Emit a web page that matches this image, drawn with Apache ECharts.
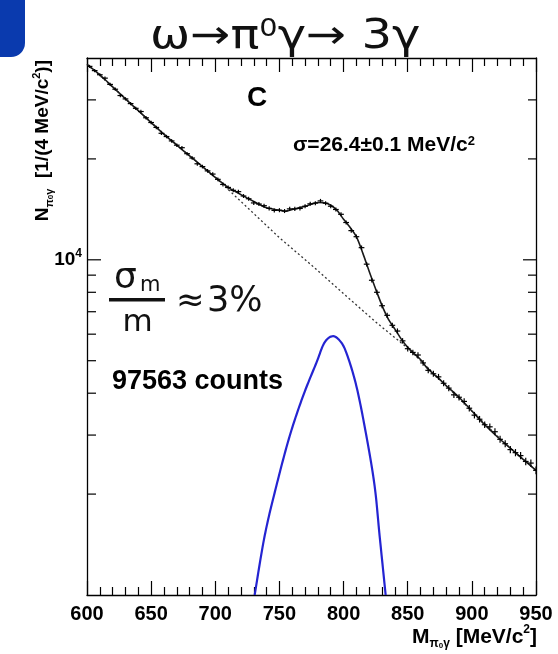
<!DOCTYPE html>
<html><head><meta charset="utf-8">
<script src="https://cdn.jsdelivr.net/npm/echarts@6/dist/echarts.min.js"></script>
<style>html,body{margin:0;padding:0;background:#fff}#c{width:558px;height:654px}</style>
</head><body><div id="c"></div>
<script>
// ---- data ----
const xTickLabels = [600, 650, 700, 750, 800, 850, 900, 950];
const yLabelValues = [10000];
const yMajorTicks = [10000];
const yMinorTicks = [2000, 3000, 4000, 5000, 6000, 7000, 8000, 9000, 20000, 30000];

const binCenters = [602,606,610,614,618,622,626,630,634,638,642,646,650,654,658,662,666,670,674,678,682,686,690,694,698,702,706,710,714,718,722,726,730,734,738,742,746,750,754,758,762,766,770,774,778,782,786,790,794,798,802,806,810,814,818,822,826,830,834,838,842,846,850,854,858,862,866,870,874,878,882,886,890,894,898,902,906,910,914,918,922,926,930,934,938,942,946,950];
const counts = [37760,36680,35650,34830,33360,32280,30910,30200,29240,28310,
  27690,26530,25680,24830,23850,23320,22630,21980,21600,20730,
  20120,19340,18970,18420,18020,17380,16780,16440,16120,15970,
  15500,15210,14780,14670,14500,14240,14040,14060,13980,14190,
  14190,14230,14450,14690,14760,14990,14750,14450,14130,13670,
  12920,12220,11720,10870,9705,8690,8000,7295,6830,6377,
  6130,5731,5430,5293,5200,4925,4680,4571,4475,4282,
  4142,3955,3890,3780,3608,3440,3345,3221,3175,3070,
  2914,2827,2715,2659,2605,2503,2475,2355];

const fitX = [600,610,620,630,640,650,660,670,680,690,700,710,720,730,740,750,755,760,765,770,775,780,785,790,795,800,805,810,815,820,825,830,835,840,845,850,855,860,865,870,875,880,890,900,910,920,930,940,950];
const fitY = [38300,35650,32810,30200,27860,25670,23660,21980,20420,18970,17620,16440,15650,14930,14290,14060,13960,14130,14290,14450,14660,14830,14790,14550,14030,13210,12500,11720,10470,9230,8180,7300,6640,6210,5800,5480,5250,5040,4760,4570,4400,4210,3890,3540,3220,2960,2740,2540,2355];

const bkgX = [600,625,650,675,700,725,750,775,800,825,850,875,900,925,950];
const bkgY = [38300,31520,25670,21190,17620,14320,11640,9640,7925,6525,5450,4395,3540,2853,2355];

const sigX = [730.7,738.5,747.6,758,768.4,778.8,785,791.3,797,802.2,810,817.8,824.2,828.1,832.8];
const sigY = [1000,1502,2115,2980,3921,4928,5650,5915,5740,5276,4198,2980,2115,1502,1000];

// ---- chart ----
const X0 = 600, X1 = 950, Y0 = 1000, Y1 = 40000;
const HB = 'Liberation Sans';
const DV = 'DejaVu Sans';
const chart = echarts.init(document.getElementById('c'), null, {renderer: 'canvas'});

// Catmull-Rom spline through pixel points (rendering only)
function spline(pts, steps) {
  const out = [];
  const n = pts.length;
  for (let i = 0; i < n - 1; i++) {
    const p0 = pts[Math.max(i - 1, 0)], p1 = pts[i], p2 = pts[i + 1], p3 = pts[Math.min(i + 2, n - 1)];
    for (let s = 0; s < steps; s++) {
      const t = s / steps, t2 = t * t, t3 = t2 * t;
      out.push([0, 1].map(k => 0.5 * (2 * p1[k] + (-p0[k] + p2[k]) * t +
        (2 * p0[k] - 5 * p1[k] + 4 * p2[k] - p3[k]) * t2 +
        (-p0[k] + 3 * p1[k] - 3 * p2[k] + p3[k]) * t3)));
    }
  }
  out.push(pts[n - 1]);
  return out;
}

const xAxisBase = {
  type: 'value', min: X0, max: X1, interval: 50,
  axisLine: {show: true, onZero: false, lineStyle: {color: '#000', width: 1.3}},
  axisTick: {show: true, inside: true, length: 14, lineStyle: {color: '#000', width: 1.2}},
  minorTick: {show: true, splitNumber: 5, length: 8, lineStyle: {color: '#000', width: 1.2}},
  splitLine: {show: false}, minorSplitLine: {show: false}
};
const yAxisBase = {
  type: 'log', logBase: 10, min: Y0, max: Y1,
  axisLine: {show: true, onZero: false, lineStyle: {color: '#000', width: 1.3}},
  axisTick: {show: false}, splitLine: {show: false}, minorTick: {show: false}
};

function txt(x, y, text, font, align, extra) {
  return {type: 'text', x: x, y: y, style: Object.assign({
    text: text, font: font, fill: '#111',
    textAlign: align, align: align, textVerticalAlign: 'middle', verticalAlign: 'middle'
  }, extra || {})};
}

const titleEl = txt(150, 38, 'ω→π{sup|0}γ→ 3γ', 'normal 40px "DejaVu Sans"', 'left', {
  rich: {sup: {fontSize: 24, fontFamily: DV, fill: '#111', verticalAlign: 'top', lineHeight: 20}}
});
titleEl.scaleX = 1.2;

const option = {
  animation: false,
  backgroundColor: '#fff',
  grid: {left: 87, right: 22, top: 58, bottom: 59},
  xAxis: [
    Object.assign({}, xAxisBase, {position: 'bottom',
      axisLabel: {margin: 9, fontSize: 20, fontWeight: 'bold', fontFamily: HB, color: '#000',
        formatter: v => xTickLabels.indexOf(v) >= 0 ? String(v) : ''}}),
    Object.assign({}, xAxisBase, {position: 'top', axisLabel: {show: false}})
  ],
  yAxis: [
    Object.assign({}, yAxisBase, {position: 'left',
      axisLabel: {margin: 5, color: '#000',
        formatter: v => yLabelValues.some(t => Math.abs(Math.log10(v) - Math.log10(t)) < 1e-6) ? '{b|10}{s|4}' : '',
        rich: {b: {fontSize: 19, fontWeight: 'bold', fontFamily: HB, color: '#000', lineHeight: 24},
               s: {fontSize: 12, fontWeight: 'bold', fontFamily: HB, color: '#000', verticalAlign: 'top', lineHeight: 12}}}}),
    Object.assign({}, yAxisBase, {position: 'right', axisLabel: {show: false}})
  ],
  series: [
    {
      type: 'custom', name: 'yticks', silent: true, z: 5, clip: false,
      data: yMinorTicks.concat(yMajorTicks).map(v => [X0, v]),
      renderItem: (params, api) => {
        const v = api.value(1);
        const L = yMajorTicks.indexOf(v) >= 0 ? 14 : 9;
        const p = api.coord([X0, v]), q = api.coord([X1, v]);
        const st = {stroke: '#000', lineWidth: 1.2};
        return {type: 'group', children: [
          {type: 'line', shape: {x1: p[0], y1: p[1], x2: p[0] + L, y2: p[1]}, style: st},
          {type: 'line', shape: {x1: q[0] - L + 1, y1: q[1], x2: q[0], y2: q[1]}, style: st}
        ]};
      }
    },
    {
      type: 'line', name: 'background', z: 2, symbol: 'none', silent: true,
      data: bkgX.map((x, i) => [x, bkgY[i]]),
      lineStyle: {color: '#333', width: 1.3, type: [2, 2.5]}
    },
    {
      type: 'line', name: 'fit', z: 3, symbol: 'none', silent: true, smooth: 0.25,
      data: fitX.map((x, i) => [x, fitY[i]]),
      lineStyle: {color: '#1a1a1a', width: 1.6}
    },
    {
      type: 'custom', name: 'signal', z: 3, silent: true, clip: true,
      data: [[sigX[0], sigY[0]]],
      renderItem: (params, api) => {
        const pts = sigX.map((x, i) => api.coord([x, sigY[i]]));
        return {type: 'polyline', shape: {points: spline(pts, 16)},
          style: {stroke: '#2424d2', lineWidth: 2.2, fill: null}};
      }
    },
    {
      type: 'custom', name: 'data', z: 4, silent: true, clip: true,
      data: binCenters.map((x, i) => [x, counts[i]]),
      renderItem: (params, api) => {
        const x = api.value(0), y = api.value(1);
        const c = api.coord([x, y]);
        const l = api.coord([x - 2, y]), r = api.coord([x + 2, y]);
        const e = Math.sqrt(y);
        const t = api.coord([x, y + e]), b = api.coord([x, y - e]);
        const st = {stroke: '#000', lineWidth: 1.2};
        return {type: 'group', children: [
          {type: 'line', shape: {x1: l[0] - 0.3, y1: c[1], x2: r[0] + 0.3, y2: c[1]}, style: st},
          {type: 'line', shape: {x1: c[0], y1: t[1] - 0.8, x2: c[0], y2: b[1] + 0.8}, style: st}
        ]};
      }
    }
  ],
  graphic: [
    {type: 'rect', shape: {x: -20, y: -20, width: 45, height: 77, r: 14}, style: {fill: '#0a3aae'}},
    titleEl,
    txt(257, 98, 'C', 'bold 28px "Liberation Sans"', 'center', {fill: '#000'}),
    txt(293, 145, 'σ=26.4±0.1 MeV/c{sup|2}', 'bold 21px "Liberation Sans"', 'left', {fill: '#000',
      rich: {sup: {fontSize: 13, fontWeight: 'bold', fontFamily: HB, fill: '#000', verticalAlign: 'top', lineHeight: 13}}}),
    txt(114, 279, 'σ', 'normal 36px "DejaVu Sans"', 'left'),
    txt(140, 286, 'm', 'normal 21px "DejaVu Sans"', 'left'),
    {type: 'rect', shape: {x: 109, y: 298, width: 56, height: 3.6}, style: {fill: '#111'}},
    txt(137.5, 323, 'm', 'normal 31px "DejaVu Sans"', 'center'),
    txt(176, 302, '≈', 'normal 34px "DejaVu Sans"', 'left'),
    txt(207, 302, '3%', 'normal 35px "DejaVu Sans"', 'left'),
    txt(112, 382, '97563 counts', 'bold 27px "Liberation Sans"', 'left', {fill: '#000'}),
    {type: 'text', x: 537, y: 637, style: {
      text: '{b|M}{sub|π}{subsup|0}{sub|γ}{b| [MeV/c}{sup|2}{b|]}', textAlign: 'right', textVerticalAlign: 'middle', align: 'right', verticalAlign: 'middle',
      rich: {
        b: {fontSize: 21, fontWeight: 'bold', fontFamily: HB, fill: '#000', lineHeight: 26},
        sub: {fontSize: 12, fontWeight: 'bold', fontFamily: HB, fill: '#000', verticalAlign: 'bottom', lineHeight: 12},
        subsup: {fontSize: 8, fontWeight: 'bold', fontFamily: HB, fill: '#000', verticalAlign: 'bottom', lineHeight: 20},
        sup: {fontSize: 12, fontWeight: 'bold', fontFamily: HB, fill: '#000', verticalAlign: 'top', lineHeight: 12}
      }}},
    {type: 'text', x: 43, y: 60, rotation: Math.PI / 2, style: {
      text: '{b|N}{sub|π}{subsup|0}{sub|γ}{b|  [1/(4 MeV/c}{sup|2}{b|)]}', textAlign: 'right', textVerticalAlign: 'middle', align: 'right', verticalAlign: 'middle',
      rich: {
        b: {fontSize: 19, fontWeight: 'bold', fontFamily: HB, fill: '#000', lineHeight: 24},
        sub: {fontSize: 11, fontWeight: 'bold', fontFamily: HB, fill: '#000', verticalAlign: 'bottom', lineHeight: 11},
        subsup: {fontSize: 8, fontWeight: 'bold', fontFamily: HB, fill: '#000', verticalAlign: 'bottom', lineHeight: 19},
        sup: {fontSize: 11, fontWeight: 'bold', fontFamily: HB, fill: '#000', verticalAlign: 'top', lineHeight: 11}
      }}}
  ]
};
chart.setOption(option);
</script>
</body></html>
